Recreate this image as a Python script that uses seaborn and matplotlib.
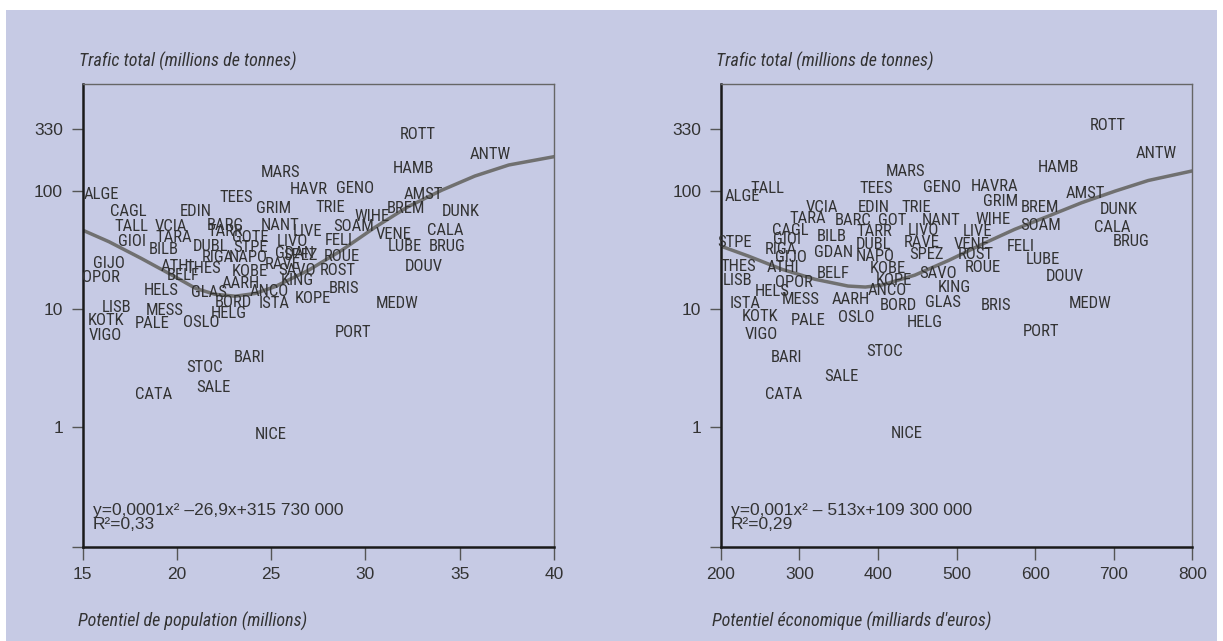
import matplotlib
matplotlib.use('Agg')
import numpy as np
import pandas as pd
import matplotlib.pyplot as plt
import seaborn as sns
from matplotlib.patches import Rectangle
from matplotlib import font_manager

# %% Data (port codes, potentiel, trafic total in Mt)

left_names = ['ALGE', 'CAGL', 'TALL', 'GIOI', 'GIJO', 'OPOR', 'LISB', 'KOTK', 'VIGO',
              'EDIN', 'VCIA', 'TARA', 'BILB', 'TEES', 'MARS', 'HAVR', 'GENO', 'ROTT',
              'HAMB', 'ANTW', 'AMST', 'GRIM', 'TRIE', 'BREM', 'WIHE', 'DUNK', 'BARC',
              'NANT', 'SOAM', 'LIVE', 'CALA', 'VENE', 'TARR', 'GOTE', 'LIVO', 'FELI',
              'DUBL', 'STPE', 'LUBE', 'BRUG', 'GDAN', 'SPEZ', 'ROUE', 'RIGA', 'NAPO',
              'RAVE', 'ATHI', 'THES', 'ROST', 'DOUV', 'KOBE', 'SAVO', 'BELF', 'KING',
              'AARH', 'HELS', 'GLAS', 'ANCO', 'BRIS', 'KOPE', 'BORD', 'ISTA', 'MEDW',
              'MESS', 'HELG', 'PALE', 'OSLO', 'PORT', 'BARI', 'STOC', 'SALE', 'CATA', 'NICE']
left_x = [16.0, 17.4, 17.6, 17.6, 16.4, 16.0, 16.8, 16.25, 16.2,
          21.0, 19.7, 19.85, 19.3, 23.15, 25.5, 27.0, 29.45, 32.75,
          32.55, 36.6, 33.05, 25.15, 28.15, 32.15, 30.35, 35.05, 22.55,
          25.45, 29.35, 26.95, 34.25, 31.5, 22.55, 23.9, 26.15, 28.6,
          21.8, 23.9, 32.1, 34.35, 26.25, 26.55, 28.75, 22.15, 23.8,
          25.6, 20.0, 21.4, 28.55, 33.1, 23.85, 26.4, 20.35, 26.4,
          23.4, 19.15, 21.7, 24.9, 28.85, 27.2, 23.0, 25.15, 31.7,
          19.35, 22.75, 18.7, 21.3, 29.35, 23.85, 21.45, 21.95, 18.75, 24.95]
left_y = [93.6, 66.3, 50.2, 37.0, 24.3, 18.5, 10.2, 7.9, 6.0,
          66.3, 50.2, 40.3, 31.9, 87.8, 142, 103, 105, 301,
          154, 204, 93.6, 70.8, 72.2, 70.8, 61.0, 66.3, 51.2,
          51.2, 50.2, 44.9, 45.8, 42.9, 44.9, 40.3, 37.0, 37.7,
          33.5, 33.1, 33.5, 33.5, 29.5, 28.5, 28.0, 27.3, 27.3,
          23.9, 23.0, 22.0, 21.3, 22.7, 20.6, 21.0, 19.3, 17.5,
          16.4, 14.2, 13.7, 14.0, 14.9, 12.3, 11.4, 11.0, 11.1,
          9.6, 9.2, 7.45, 7.6, 6.25, 3.85, 3.2, 2.15, 1.87, 0.87]

right_names = ['ALGE', 'TALL', 'MARS', 'TEES', 'GENO', 'HAVRA', 'ROTT', 'ANTW', 'HAMB',
               'AMST', 'GRIM', 'BREM', 'DUNK', 'VCIA', 'EDIN', 'TRIE', 'TARA', 'BARC',
               'GOT', 'NANT', 'WIHE', 'SOAM', 'CALA', 'CAGL', 'TARR', 'LIVO', 'LIVE',
               'BILB', 'GIOI', 'STPE', 'DUBL', 'RAVE', 'VENE', 'FELI', 'BRUG', 'RIGA',
               'GDAN', 'NAPO', 'SPEZ', 'ROST', 'GIJO', 'LUBE', 'THES', 'ATHI', 'KOBE',
               'ROUE', 'BELF', 'SAVO', 'DOUV', 'LISB', 'OPOR', 'KOPE', 'KING', 'HELS',
               'ANCO', 'ISTA', 'MESS', 'AARH', 'BORD', 'GLAS', 'BRIS', 'MEDW', 'KOTK',
               'PALE', 'OSLO', 'HELG', 'VIGO', 'PORT', 'BARI', 'STOC', 'SALE', 'CATA', 'NICE']
right_x = [227, 260, 435, 398, 482, 549, 693, 754, 630,
           664, 556, 606, 707, 329, 395, 449, 311, 369,
           418, 481, 546, 607, 698, 288, 395, 458, 527,
           341, 284, 218, 395, 456, 519, 582, 722, 276,
           344, 396, 462, 525, 289, 610, 222, 279, 412,
           534, 343, 477, 638, 222, 293, 420, 497, 265,
           412, 231, 302, 366, 426, 483, 550, 670, 250,
           311, 373, 460, 252, 607, 284, 408, 353, 280, 436]
right_y = [88.8, 105, 144, 105, 106, 109, 359, 205, 156,
           94.9, 81.6, 71.6, 69.5, 71.6, 72.6, 71.6, 58.3, 56.1,
           56.1, 56.1, 57.2, 51.2, 49.2, 46.1, 45.5, 46.1, 45.5,
           41.3, 38.7, 36.2, 35.1, 36.2, 35.1, 34.0, 37.0, 31.9,
           29.8, 28.0, 28.9, 28.9, 27.1, 26.2, 23.0, 22.3, 22.0,
           22.6, 19.8, 19.8, 18.9, 17.4, 16.6, 17.4, 15.3, 14.0,
           14.2, 11.2, 11.9, 12.1, 10.6, 11.4, 10.6, 11.2, 8.7,
           8.0, 8.5, 7.7, 6.1, 6.4, 3.9, 4.4, 2.7, 1.9, 0.89]

# fitted trend curves
left_curve_x = [15.0, 16.4, 18.1, 19.9, 21.0, 22.0, 23.1, 24.15, 25.2, 27.0,
                28.75, 30.5, 32.25, 34.05, 35.8, 37.6, 40.0]
left_curve_y = [46.4, 37.0, 26.8, 18.7, 14.9, 13.3, 12.8, 13.5, 15.4, 21.3,
                31.4, 48.9, 73.1, 101, 133, 165, 194]
right_curve_x = [200, 235, 278, 320, 362, 384, 405, 447, 490, 532, 574, 617,
                 659, 702, 744, 800]
right_curve_y = [34.0, 28.0, 21.6, 17.8, 15.6, 15.3, 15.9, 19.3, 25.7, 35.1, 47.1,
                 61.0, 79.0, 99.3, 122, 147]

y_ticks = [1, 10, 100, 330]
y_tick_labels = ['1', '10', '100', '330']
left_xticks = [15, 20, 25, 30, 35, 40]
right_xticks = [200, 300, 400, 500, 600, 700, 800]

left_eq = 'y=0,0001x\u00b2 \u201326,9x+315 730 000\nR\u00b2=0,33'
right_eq = 'y=0,001x\u00b2 \u2013 513x+109 300 000\nR\u00b2=0,29'

# %% Style
sns.set_theme(style='white')
installed = {f.name for f in font_manager.fontManager.ttflist}
narrow = [f for f in ['Liberation Sans Narrow', 'Roboto Condensed', 'Liberation Sans']
          if f in installed]
plt.rcParams['font.family'] = narrow + ['DejaVu Sans']
wide = [f for f in ['Liberation Sans'] if f in installed] + ['DejaVu Sans']

bg = '#c6cae4'
txt = '#333333'

left = pd.DataFrame({'name': left_names, 'x': left_x, 'y': left_y})
right = pd.DataFrame({'name': right_names, 'x': right_x, 'y': right_y})
lcurve = pd.DataFrame({'x': left_curve_x, 'y': left_curve_y})
rcurve = pd.DataFrame({'x': right_curve_x, 'y': right_curve_y})

fig = plt.figure(figsize=(12.23, 6.41), dpi=100)
fig.patch.set_facecolor('white')
fig.patches.append(Rectangle((0.005, 0.0), 0.99, 0.984, transform=fig.transFigure,
                             facecolor=bg, edgecolor='none', zorder=-10))

ax1 = fig.add_axes([0.0675, 0.1474, 0.3855, 0.7216])
ax2 = fig.add_axes([0.5893, 0.1474, 0.3856, 0.7216])

ymin, ymax = 0.0975, 800

panels = [(ax1, left, lcurve, (15, 40), left_xticks, left_eq),
          (ax2, right, rcurve, (200, 800), right_xticks, right_eq)]

for ax, df, cv, xl, xt, eq in panels:
    ax.set_facecolor('none')
    sns.lineplot(data=cv, x='x', y='y', ax=ax, color='#707070', linewidth=2.5, zorder=2)
    for _, r in df.iterrows():
        ax.text(r.x, r.y, r['name'], ha='center', va='center', fontsize=12,
                color=txt, zorder=3)
    ax.set_yscale('log')
    ax.set_ylim(ymin, ymax)
    ax.set_xlim(*xl)
    ax.set_yticks([ymin] + y_ticks)
    ax.set_yticklabels([''] + y_tick_labels)
    ax.yaxis.set_minor_locator(matplotlib.ticker.NullLocator())
    ax.set_xticks(xt)
    ax.set_xticklabels([str(v) for v in xt])
    ax.set_xlabel('')
    ax.set_ylabel('')
    ax.tick_params(axis='y', direction='out', length=8, width=1, color='#555555',
                   pad=6, labelsize=12.5, labelcolor=txt, left=True)
    ax.tick_params(axis='x', direction='out', length=9.5, width=1, color='#555555',
                   pad=5, labelsize=12.5, labelcolor=txt, bottom=True)
    for lab in ax.get_xticklabels() + ax.get_yticklabels():
        lab.set_fontfamily(wide)
    for s in ['left', 'bottom']:
        ax.spines[s].set_color('#1a1a1a')
        ax.spines[s].set_linewidth(1.8)
    for s in ['top', 'right']:
        ax.spines[s].set_color('#666666')
        ax.spines[s].set_linewidth(1.0)
    ax.text(0.022, 0.063, eq, transform=ax.transAxes, ha='left', va='center',
            fontsize=12.5, color=txt, linespacing=0.95, fontfamily=wide)

for x0, lab in [(79, 'Trafic total (millions de tonnes)'), (716, 'Trafic total (millions de tonnes)')]:
    fig.text(x0 / 1223, 1 - 61 / 641, lab, style='italic', fontsize=13, color=txt,
             ha='left', va='center')
fig.text(78 / 1223, 1 - 621 / 641, 'Potentiel de population (millions)', style='italic',
         fontsize=13, color=txt, ha='left', va='center')
fig.text(712 / 1223, 1 - 621 / 641, "Potentiel \u00e9conomique (milliards d'euros)",
         style='italic', fontsize=13, color=txt, ha='left', va='center')

fig.savefig('out.png', dpi=100, facecolor=fig.get_facecolor())
